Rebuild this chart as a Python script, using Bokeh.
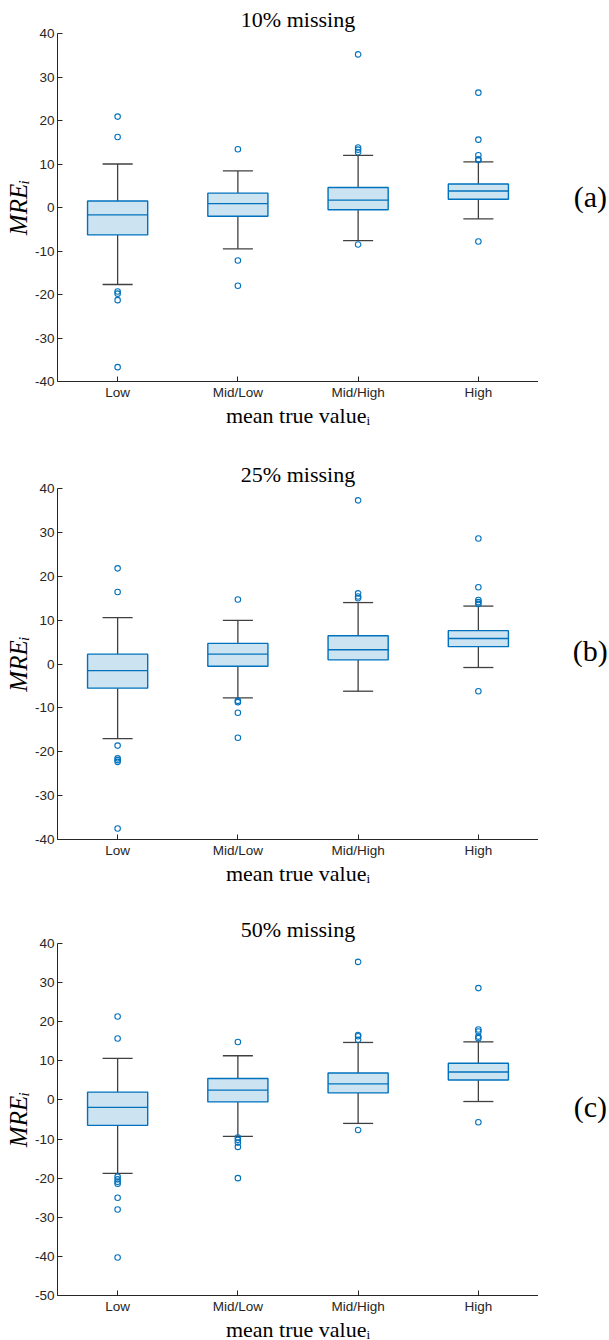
from bokeh.plotting import figure
from bokeh.layouts import column, row
from bokeh.models import FixedTicker, Range1d
from bokeh.core.properties import value
from bokeh.embed import file_html
from bokeh.resources import INLINE
import numpy as np

# ---------------- data ----------------
categories = ["Low", "Mid/Low", "Mid/High", "High"]

titles = ["10% missing", "25% missing", "50% missing"]
tags = ["(a)", "(b)", "(c)"]

# panel (a): 10% missing
lower_a = [-17.7, -9.5, -7.6, -2.6]
q1_a = [-6.3, -2.0, -0.5, 1.9]
median_a = [-1.7, 0.9, 1.7, 3.8]
q3_a = [1.5, 3.3, 4.6, 5.4]
upper_a = [10.0, 8.4, 12.0, 10.5]
outliers_a = [
    [20.9, 16.2, -19.3, -19.8, -21.3, -36.7],
    [13.4, -12.2, -18.0],
    [35.2, 13.8, 13.3, 12.7, -8.5],
    [26.4, 15.6, 12.0, 11.1, 10.9, -7.8],
]

# panel (b): 25% missing
lower_b = [-17.0, -7.7, -6.2, -0.8]
q1_b = [-5.5, -0.5, 0.95, 3.95]
median_b = [-1.5, 2.25, 3.25, 5.8]
q3_b = [2.25, 4.7, 6.45, 7.6]
upper_b = [10.55, 9.95, 14.0, 13.2]
outliers_b = [
    [21.8, 16.4, -18.6, -21.5, -21.9, -22.3, -37.5],
    [14.7, -8.4, -8.7, -11.1, -16.8],
    [37.3, 16.1, 15.4, 15.0],
    [28.6, 17.5, 14.6, 14.1, 13.7, -6.2],
]

# panel (c): 50% missing
lower_c = [-18.8, -9.3, -6.0, -0.4]
q1_c = [-6.5, -0.5, 1.8, 5.1]
median_c = [-1.9, 2.5, 4.1, 7.15]
q3_c = [2.0, 5.5, 6.9, 9.4]
upper_c = [10.65, 11.3, 14.7, 14.85]
outliers_c = [
    [21.35, 15.7, -19.6, -20.3, -20.9, -21.4, -25.0, -28.0, -40.3],
    [14.8, -9.6, -10.2, -10.9, -12.0, -20.0],
    [35.3, 16.6, 16.3, 15.4, -7.7],
    [28.6, 18.0, 17.5, 16.2, 15.8, -5.7],
]

y_ticks_ab = [-40, -30, -20, -10, 0, 10, 20, 30, 40]
y_ticks_c = [-50, -40, -30, -20, -10, 0, 10, 20, 30, 40]

# ---------------- style ----------------
BLUE = "#0072BD"
FILL = "#cce3f2"
WHISK = "#404040"
AXIS = "#262626"
SERIF = "Liberation Serif"
SANS = "Liberation Sans"


def make_panel(title, tag, lower, q1, med, q3, upper, outliers, yticks,
               frame_h, border_bottom, tag_y):
    xs = np.arange(1, len(categories) + 1, dtype=float)
    yr = Range1d(yticks[0], yticks[-1])
    p = figure(frame_width=481, frame_height=frame_h,
               min_border_left=57, min_border_right=0,
               min_border_top=33, min_border_bottom=border_bottom,
               x_range=Range1d(0.5, len(categories) + 0.5),
               y_range=yr,
               output_backend="svg", toolbar_location=None,
               title=title)
    p.title.align = "center"
    p.title.text_font = SERIF
    p.title.text_font_size = "22px"
    p.title.text_font_style = "normal"
    p.title.text_color = "black"
    p.title.standoff = 4

    p.outline_line_color = None
    p.xgrid.visible = False
    p.ygrid.visible = False
    p.background_fill_color = "white"
    p.border_fill_color = "white"

    for ax in (p.xaxis[0], p.yaxis[0]):
        ax.axis_line_color = AXIS
        ax.axis_line_width = 1
        ax.major_tick_line_color = AXIS
        ax.major_tick_in = 5
        ax.major_tick_out = 0
        ax.minor_tick_line_color = None
        ax.major_label_text_font = SANS
        ax.major_label_text_font_size = "13.5px"
        ax.major_label_text_color = AXIS
        ax.axis_label_text_font = SERIF
        ax.axis_label_text_color = "black"

    p.xaxis.ticker = FixedTicker(ticks=list(xs))
    p.xaxis.major_label_overrides = {float(x): c for x, c in zip(xs, categories)}
    p.xaxis.major_label_standoff = 3
    p.xaxis.axis_label = "mean true valueᵢ"
    p.xaxis.axis_label_text_font_size = "22px"
    p.xaxis.axis_label_text_font_style = "normal"
    p.xaxis.axis_label_standoff = 0

    p.yaxis.ticker = FixedTicker(ticks=yticks)
    p.yaxis.major_label_overrides = {t: str(t) for t in yticks}
    p.yaxis.major_label_standoff = 3
    p.yaxis.axis_label = "MREᵢ"
    p.yaxis.axis_label_text_font_size = "25px"
    p.yaxis.axis_label_text_font_style = "italic"
    p.yaxis.axis_label_standoff = 0

    # whiskers
    p.segment(x0=xs, y0=q3, x1=xs, y1=upper, line_color=WHISK, line_width=1.3)
    p.segment(x0=xs, y0=lower, x1=xs, y1=q1, line_color=WHISK, line_width=1.3)
    cap = 0.125
    p.segment(x0=xs - cap, y0=upper, x1=xs + cap, y1=upper,
              line_color=WHISK, line_width=1.3)
    p.segment(x0=xs - cap, y0=lower, x1=xs + cap, y1=lower,
              line_color=WHISK, line_width=1.3)
    # boxes
    p.vbar(x=xs, width=0.5, bottom=q1, top=q3, fill_color=FILL,
           line_color=BLUE, line_width=1.4)
    # medians
    p.segment(x0=xs - 0.25, y0=med, x1=xs + 0.25, y1=med,
              line_color=BLUE, line_width=1.4)
    # outliers
    ox = [xs[i] for i, vals in enumerate(outliers) for _ in vals]
    oy = [v for vals in outliers for v in vals]
    p.scatter(x=ox, y=oy, marker="circle", size=5.5, fill_color=None,
              line_color=BLUE, line_width=1.1)

    # side panel holding the tag
    t = figure(frame_width=71, frame_height=frame_h,
               min_border_left=0, min_border_right=0,
               min_border_top=33, min_border_bottom=border_bottom,
               x_range=Range1d(0, 1), y_range=yr,
               x_axis_type=None, y_axis_type=None,
               output_backend="svg", toolbar_location=None)
    t.outline_line_color = None
    t.xgrid.visible = False
    t.ygrid.visible = False
    t.border_fill_color = "white"
    t.text(x=[0.73], y=[tag_y], text=[tag], text_font=value(SERIF),
           text_font_size="30px", text_align="center",
           text_baseline="middle", text_color="black")
    return row(p, t, spacing=0)


p1 = make_panel(titles[0], tags[0], lower_a, q1_a, median_a, q3_a, upper_a,
                outliers_a, y_ticks_ab, 348, 74, 2.5)
p2 = make_panel(titles[1], tags[1], lower_b, q1_b, median_b, q3_b, upper_b,
                outliers_b, y_ticks_ab, 351, 71, 3.0)
p3 = make_panel(titles[2], tags[2], lower_c, q1_c, median_c, q3_c, upper_c,
                outliers_c, y_ticks_c, 352, 45, -1.7)

layout = column(p1, p2, p3, spacing=0)
open("out.html", "w").write(file_html(layout, INLINE))
